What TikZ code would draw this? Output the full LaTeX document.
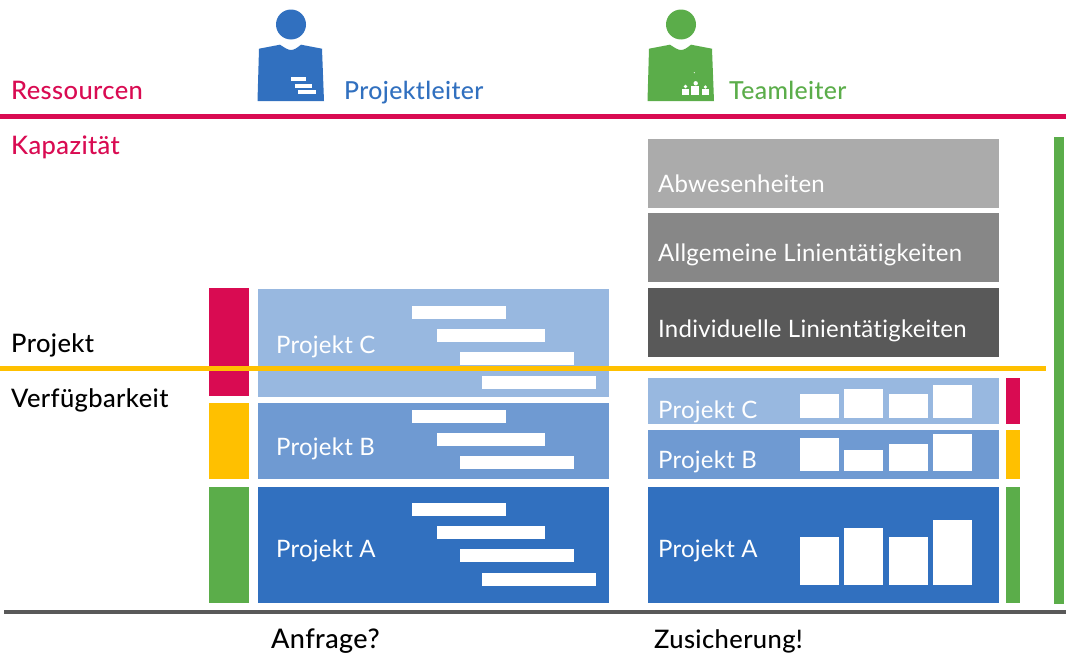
\documentclass[tikz,border=0pt]{standalone}
\usepackage{fontspec}
\setmainfont{Lato}[Ligatures=NoCommon, LetterSpace=1]
\newfontfamily\headfont{Lato Medium}[Ligatures=NoCommon, LetterSpace=1.5]
\usepackage{tikz}

\definecolor{crimson}{HTML}{D90B52}
\definecolor{plblue}{HTML}{3170BF}
\definecolor{midblue}{HTML}{6F9AD2}
\definecolor{lightblue}{HTML}{98B8E0}
\definecolor{tlgreen}{HTML}{5BAD4A}
\definecolor{amber}{HTML}{FFC000}

\begin{document}
\begin{tikzpicture}[
        x=1pt, y=-1pt,
        every node/.style={inner sep=0pt, anchor=base west, font=\fontsize{24}{28}\selectfont},
        whitelabel/.style={text=white},
        blacklabel/.style={text=black, font=\headfont\fontsize{25.5}{28}\selectfont},
        heading/.style={text=crimson, font=\headfont\fontsize{25.5}{28}\selectfont},
        leader/.style={font=\headfont\fontsize{24.8}{28}\selectfont},
        whitebar/.style={fill=white},
        rule/.style={line width=4.5pt}
        ]

        \useasboundingbox (0,0) rectangle (1066,653);

        % project leader
        \begin{scope}
        \fill[plblue] (291,24.5) circle (15);
        \fill[plblue] (257.5,101) -- (259,48.7) -- (280,44.7) .. controls (285,48) and (288,50) .. (291,50)
            .. controls (294,50) and (297,48) .. (301,44.7) -- (322,48.7) -- (324,101) -- cycle;
        \fill[whitebar] (291,77) rectangle (306,81);
        \fill[whitebar] (294.5,84) rectangle (312,88);
        \fill[whitebar] (298,90) rectangle (316,94);
        \end{scope}

        % team leader
        \begin{scope}[xshift=390pt]
        \fill[tlgreen] (291,24.5) circle (15);
        \fill[tlgreen] (257.5,101) -- (259,48.7) -- (280,44.7) .. controls (285,48) and (288,50) .. (291,50)
            .. controls (294,50) and (297,48) .. (301,44.7) -- (322,48.7) -- (324,101) -- cycle;
        \fill[whitebar] (304.3,72.7) circle (0.6);
        \fill[whitebar] (305.7,83.3) circle (2.2);
        \fill[whitebar] (300.7,86.3) rectangle (309.3,95.3);
        \fill[whitebar] (295.5,86.5) circle (1.8);
        \fill[whitebar] (292,89) rectangle (299.3,95.3);
        \fill[whitebar] (315.3,87) circle (1.8);
        \fill[whitebar] (312,89) rectangle (318.7,95.3);
        \end{scope}

        % gray capacity blocks
        \fill[black!33] (648,139) rectangle (999,208);
        \fill[black!47] (648,213) rectangle (999,282);
        \fill[black!65] (648,288) rectangle (999,357);

        % left stack
        \fill[crimson] (209,288) rectangle (249,396);
        \fill[amber] (209,403) rectangle (249,479);
        \fill[tlgreen] (209,487) rectangle (249,603);
        \fill[lightblue] (258,289) rectangle (609,397);
        \fill[midblue] (258,403) rectangle (609,479);
        \fill[plblue] (258,487) rectangle (609,603);

        \fill[whitebar] (412,306) rectangle (506,319);
        \fill[whitebar] (437,329) rectangle (545,342);
        \fill[whitebar] (460,352) rectangle (574,365);
        \fill[whitebar] (482,376) rectangle (596,389);

        \fill[whitebar] (412,410) rectangle (506,423);
        \fill[whitebar] (437,433) rectangle (545,446);
        \fill[whitebar] (460,456) rectangle (574,469);

        \fill[whitebar] (412,503) rectangle (506,516);
        \fill[whitebar] (437,526) rectangle (545,539);
        \fill[whitebar] (460,549) rectangle (574,562);
        \fill[whitebar] (482,573) rectangle (596,586);

        % right stack
        \fill[lightblue] (648,378) rectangle (999,424);
        \fill[midblue] (648,430) rectangle (999,479);
        \fill[plblue] (648,487) rectangle (999,603);
        \fill[crimson] (1006,378) rectangle (1020,424);
        \fill[amber] (1006,430) rectangle (1020,479);
        \fill[tlgreen] (1006,487) rectangle (1020,603);
        \fill[tlgreen] (1054,137) rectangle (1064,604);

        \fill[whitebar] (800,394) rectangle (839,418);
        \fill[whitebar] (844,389) rectangle (883,418);
        \fill[whitebar] (889,394) rectangle (928,418);
        \fill[whitebar] (933,385) rectangle (972,418);

        \fill[whitebar] (800,438) rectangle (839,471);
        \fill[whitebar] (844,450) rectangle (883,471);
        \fill[whitebar] (889,444) rectangle (928,471);
        \fill[whitebar] (933,434) rectangle (972,471);

        \fill[whitebar] (800,537) rectangle (839,585);
        \fill[whitebar] (844,528) rectangle (883,585);
        \fill[whitebar] (889,537) rectangle (928,585);
        \fill[whitebar] (933,520) rectangle (972,585);

        % rules
        \draw[rule, crimson] (0,116.5) -- (1066,116.5);
        \draw[rule, amber] (0,368.5) -- (1046,368.5);
        \draw[rule, black!65] (4,612) -- (1066,612);

        % labels
        \node[heading] (ressourcen) at (11,99.5) {Ressourcen};
        \node[heading] (kapazitaet) at (11,154) {Kapazität};
        \node[blacklabel] (projekt) at (11,352) {Projekt};
        \node[blacklabel] (verfuegbarkeit) at (11,407) {Verfügbarkeit};
        \node[leader, text=plblue] (projektleiter) at (344,99.5) {Projektleiter};
        \node[leader, text=tlgreen] (teamleiter) at (729,99.5) {Teamleiter};

        \node[whitelabel] (abwesenheiten) at (658,192) {Abwesenheiten};
        \node[whitelabel] (allgemeine) at (658,261) {Allgemeine Linientätigkeiten};
        \node[whitelabel] (individuelle) at (658,337) {Individuelle Linientätigkeiten};

        \node[whitelabel] (leftc) at (276,353) {Projekt C};
        \node[whitelabel] (leftb) at (276,455) {Projekt B};
        \node[whitelabel] (lefta) at (276,557) {Projekt A};
        \node[whitelabel] (rightc) at (658,418) {Projekt C};
        \node[whitelabel] (rightb) at (658,468) {Projekt B};
        \node[whitelabel] (righta) at (658,557) {Projekt A};

        \node[blacklabel, font=\headfont\fontsize{27}{28}\selectfont] (anfrage) at (271,648) {Anfrage?};
        \node[blacklabel] (zusicherung) at (654,648) {Zusicherung!};
\end{tikzpicture}
\end{document}
